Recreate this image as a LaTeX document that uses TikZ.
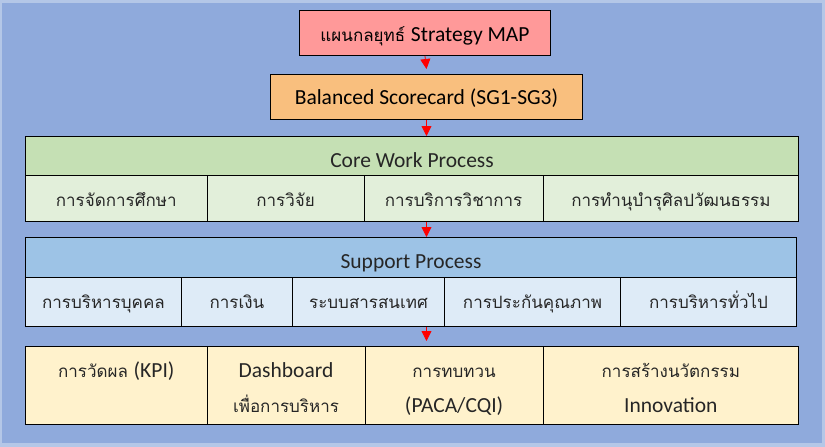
\documentclass[tikz,border=0pt]{standalone}
\usepackage{fontspec}
\setmainfont{Loma}[Script=Thai]
\newfontfamily\latinfont{Carlito}
\newcommand{\en}[1]{{\latinfont\fontsize{21.5}{35}\selectfont #1}}
\usepackage{tikz}
\usetikzlibrary{arrows.meta}
\definecolor{pageedge}{HTML}{B4C7E7}
\definecolor{pageblue}{HTML}{8FAADC}
\definecolor{mapred}{HTML}{FF9999}
\definecolor{bscorange}{HTML}{F9BF7E}
\definecolor{coregreen}{HTML}{C5E0B4}
\definecolor{corelight}{HTML}{E2EFDA}
\definecolor{supblue}{HTML}{9DC3E6}
\definecolor{suplight}{HTML}{DEEBF7}
\definecolor{toolyellow}{HTML}{FFF2CC}

\begin{document}
\begin{tikzpicture}[x = 1pt, y = -1pt,
	box/.style = {draw, line width=1pt, inner sep=0pt, anchor=north west, align=center, text=black!85, font=\fontsize{17}{35}\selectfont, text height=16pt, text depth=0pt},
	head/.style = {box, text height=21pt},
	tool/.style = {box, fill=toolyellow, minimum height=78, text height=53.4pt, text depth=0pt},
	flow/.style = {red, line width=0.8pt, -{Triangle[length=10pt, width=10pt]}}]
		\fill[pageedge] (0,0) rectangle (825,447);
		\fill[pageblue] (2,3) rectangle (822,443);
		\node[box, fill=mapred, text=black, minimum width=251, minimum height=45, text height=17.6pt] (map) at (299,10) {แผนกลยุทธ์ \en{Strategy MAP}};
		\node[box, fill=bscorange, text=black, minimum width=312, minimum height=45, text height=15.6pt] (bsc) at (270,74) {\en{Balanced Scorecard (SG1-SG3)}};
		\node[head, fill=coregreen, minimum width=773, minimum height=39, text height=22.4pt] (core) at (25,136) {\en{Core Work Process}};
		\node[box, fill=corelight, minimum width=181.5, minimum height=46] (core1) at (25,175) {การจัดการศึกษา};
		\node[box, fill=corelight, minimum width=157, minimum height=46] (core2) at (206.5,175) {การวิจัย};
		\node[box, fill=corelight, minimum width=179.2, minimum height=46] (core3) at (363.5,175) {การบริการวิชาการ};
		\node[box, fill=corelight, minimum width=255.3, minimum height=46] (core4) at (542.7,175) {การทำนุบำรุศิลปวัฒนธรรม};
		\node[head, fill=supblue, minimum width=771, minimum height=40] (sup) at (25,237) {\en{Support Process}};
		\node[box, fill=suplight, minimum width=156, minimum height=49, text height=12pt] (sup1) at (25,277) {การบริหารบุคคล};
		\node[box, fill=suplight, minimum width=111, minimum height=49, text height=12pt] (sup2) at (181,277) {การเงิน};
		\node[box, fill=suplight, minimum width=152, minimum height=49, text height=12pt] (sup3) at (292,277) {ระบบสารสนเทศ};
		\node[box, fill=suplight, minimum width=176, minimum height=49, text height=12pt] (sup4) at (444,277) {การประกันคุณภาพ};
		\node[box, fill=suplight, minimum width=176, minimum height=49, text height=12pt] (sup5) at (620,277) {การบริหารทั่วไป};
		\node[tool, minimum width=181.5] (tool1) at (25,346) {การวัดผล \en{(KPI)}\\\mbox{}};
		\node[tool, minimum width=158] (tool2) at (206.5,346) {\en{Dashboard}\\เพื่อการบริหาร};
		\node[tool, minimum width=178.2] (tool3) at (364.5,346) {การทบทวน\\\en{(PACA/CQI)}};
		\node[tool, minimum width=255.3] (tool4) at (542.7,346) {การสร้างนวัตกรรม\\\en{Innovation}};
		\draw[flow] (map.south) -- ([yshift=5pt]bsc.north);
		\draw[flow] (bsc.south) -- (bsc.south |- core.north);
		\draw[flow] (bsc.south |- core3.south) -- (bsc.south |- sup.north);
		\draw[flow] (bsc.south |- sup4.south) -- ([yshift=5pt]bsc.south |- tool3.north);
	\end{tikzpicture}
\end{document}
